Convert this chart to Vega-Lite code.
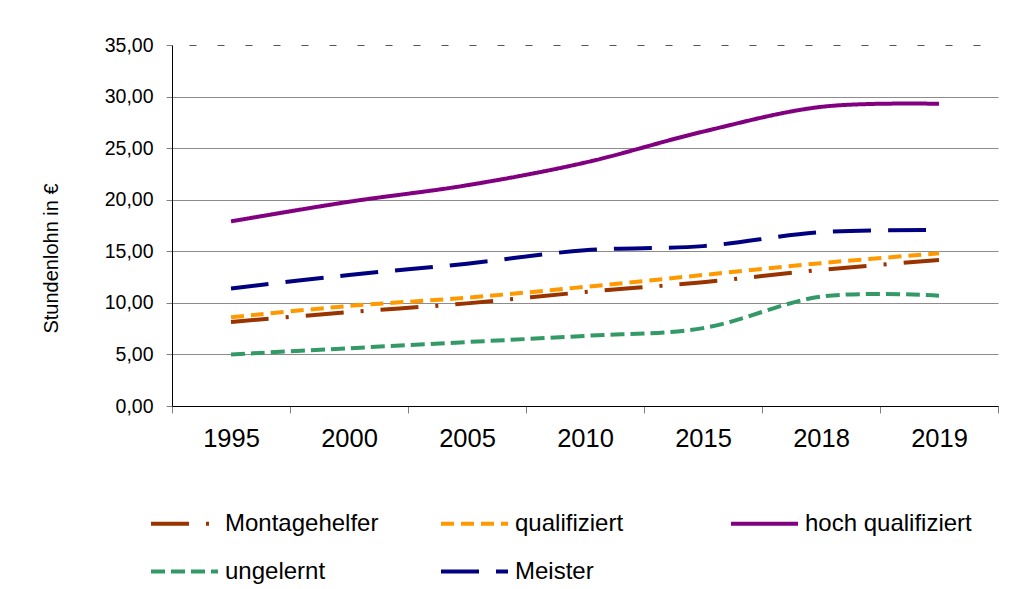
{
  "$schema": "https://vega.github.io/schema/vega-lite/v6.json",
  "width": 826,
  "height": 361,
  "autosize": "none",
  "padding": {"left": 172, "top": 45, "right": 16, "bottom": 183},
  "background": "white",
  "config": {
    "view": {"stroke": null},
    "font": "Liberation Sans",
    "axis": {"labelFont": "Liberation Sans", "titleFont": "Liberation Sans", "labelColor": "black", "titleColor": "black"},
    "legend": {"labelFont": "Liberation Sans"}
  },
  "data": {
    "values": [
      {"year": "1995", "series": "Montagehelfer", "value": 8.15},
      {"year": "2000", "series": "Montagehelfer", "value": 9.1},
      {"year": "2005", "series": "Montagehelfer", "value": 9.95},
      {"year": "2010", "series": "Montagehelfer", "value": 11.05},
      {"year": "2015", "series": "Montagehelfer", "value": 12.0},
      {"year": "2018", "series": "Montagehelfer", "value": 13.2},
      {"year": "2019", "series": "Montagehelfer", "value": 14.15},
      {"year": "1995", "series": "qualifiziert", "value": 8.6},
      {"year": "2000", "series": "qualifiziert", "value": 9.7},
      {"year": "2005", "series": "qualifiziert", "value": 10.5},
      {"year": "2010", "series": "qualifiziert", "value": 11.55},
      {"year": "2015", "series": "qualifiziert", "value": 12.7},
      {"year": "2018", "series": "qualifiziert", "value": 13.85},
      {"year": "2019", "series": "qualifiziert", "value": 14.8},
      {"year": "1995", "series": "hoch qualifiziert", "value": 17.9},
      {"year": "2000", "series": "hoch qualifiziert", "value": 19.8},
      {"year": "2005", "series": "hoch qualifiziert", "value": 21.4},
      {"year": "2010", "series": "hoch qualifiziert", "value": 23.6},
      {"year": "2015", "series": "hoch qualifiziert", "value": 26.6},
      {"year": "2018", "series": "hoch qualifiziert", "value": 29.0},
      {"year": "2019", "series": "hoch qualifiziert", "value": 29.3},
      {"year": "1995", "series": "ungelernt", "value": 5.0},
      {"year": "2000", "series": "ungelernt", "value": 5.6},
      {"year": "2005", "series": "ungelernt", "value": 6.2},
      {"year": "2010", "series": "ungelernt", "value": 6.8},
      {"year": "2015", "series": "ungelernt", "value": 7.55},
      {"year": "2018", "series": "ungelernt", "value": 10.6},
      {"year": "2019", "series": "ungelernt", "value": 10.7},
      {"year": "1995", "series": "Meister", "value": 11.4},
      {"year": "2000", "series": "Meister", "value": 12.7},
      {"year": "2005", "series": "Meister", "value": 13.8},
      {"year": "2010", "series": "Meister", "value": 15.1},
      {"year": "2015", "series": "Meister", "value": 15.5},
      {"year": "2018", "series": "Meister", "value": 16.85},
      {"year": "2019", "series": "Meister", "value": 17.05}
    ]
  },
  "mark": {"type": "line", "interpolate": "cardinal", "strokeWidth": 4, "strokeCap": "butt"},
  "encoding": {
    "x": {
      "field": "year",
      "type": "ordinal",
      "sort": null,
      "bandPosition": 0.5,
      "scale": {"type": "band", "paddingInner": 0, "paddingOuter": 0},
      "axis": {
        "title": null,
        "labelAngle": 0,
        "labelFontSize": 25.5,
        "labelPadding": 13,
        "tickBand": "extent",
        "tickSize": 7,
        "tickColor": "#808080",
        "domainColor": "black",
        "domainWidth": 1,
        "grid": false
      }
    },
    "y": {
      "field": "value",
      "type": "quantitative",
      "scale": {"domain": [0, 35], "nice": false, "zero": true},
      "axis": {
        "title": "Stundenlohn in €",
        "titleFontSize": 20,
        "titleFontWeight": "normal",
        "titleAngle": 270,
        "titleAlign": "center",
        "titleBaseline": "middle",
        "titleX": -121,
        "titleY": 213,
        "values": [0, 5, 10, 15, 20, 25, 30, 35],
        "labelExpr": "replace(format(datum.value, '.2f'), '.', ',')",
        "labelFontSize": 19.5,
        "labelPadding": 13,
        "labelBaseline": "middle",
        "tickSize": 6,
        "tickColor": "#808080",
        "domainColor": "black",
        "domainWidth": 1,
        "grid": true,
        "gridColor": {"condition": {"test": "datum.value === 35", "value": "#555555"}, "value": "#8c8c8c"},
        "gridDash": {"condition": {"test": "datum.value === 35", "value": [7, 21]}, "value": []},
        "gridDashOffset": 11,
        "gridWidth": 1
      }
    },
    "color": {
      "field": "series",
      "type": "nominal",
      "scale": {
        "domain": ["Montagehelfer", "qualifiziert", "hoch qualifiziert", "ungelernt", "Meister"],
        "range": ["#993300", "#FF9900", "#800080", "#339966", "#000080"]
      },
      "legend": {
        "title": null,
        "orient": "none",
        "legendX": -23,
        "legendY": 443,
        "direction": "horizontal",
        "columns": 3,
        "gridAlign": "all",
        "columnPadding": 41,
        "rowPadding": -50,
        "symbolType": "stroke",
        "symbolSize": 4489,
        "symbolStrokeWidth": 4,
        "labelFontSize": 24,
        "labelLimit": 400,
        "labelOffset": 5,
        "labelColor": "black",
        "padding": 0,
        "offset": 0
      }
    },
    "strokeDash": {
      "field": "series",
      "type": "nominal",
      "scale": {
        "domain": ["Montagehelfer", "qualifiziert", "hoch qualifiziert", "ungelernt", "Meister"],
        "range": [[38, 17, 3, 17], [13, 7], [1, 0], [14, 6], [38, 17]]
      },
      "legend": {
        "title": null,
        "orient": "none",
        "legendX": -23,
        "legendY": 443,
        "direction": "horizontal",
        "columns": 3,
        "gridAlign": "all",
        "columnPadding": 41,
        "rowPadding": -50,
        "symbolType": "stroke",
        "symbolSize": 4489,
        "symbolStrokeWidth": 4,
        "labelFontSize": 24,
        "labelLimit": 400,
        "labelOffset": 5,
        "labelColor": "black",
        "padding": 0,
        "offset": 0
      }
    }
  }
}
